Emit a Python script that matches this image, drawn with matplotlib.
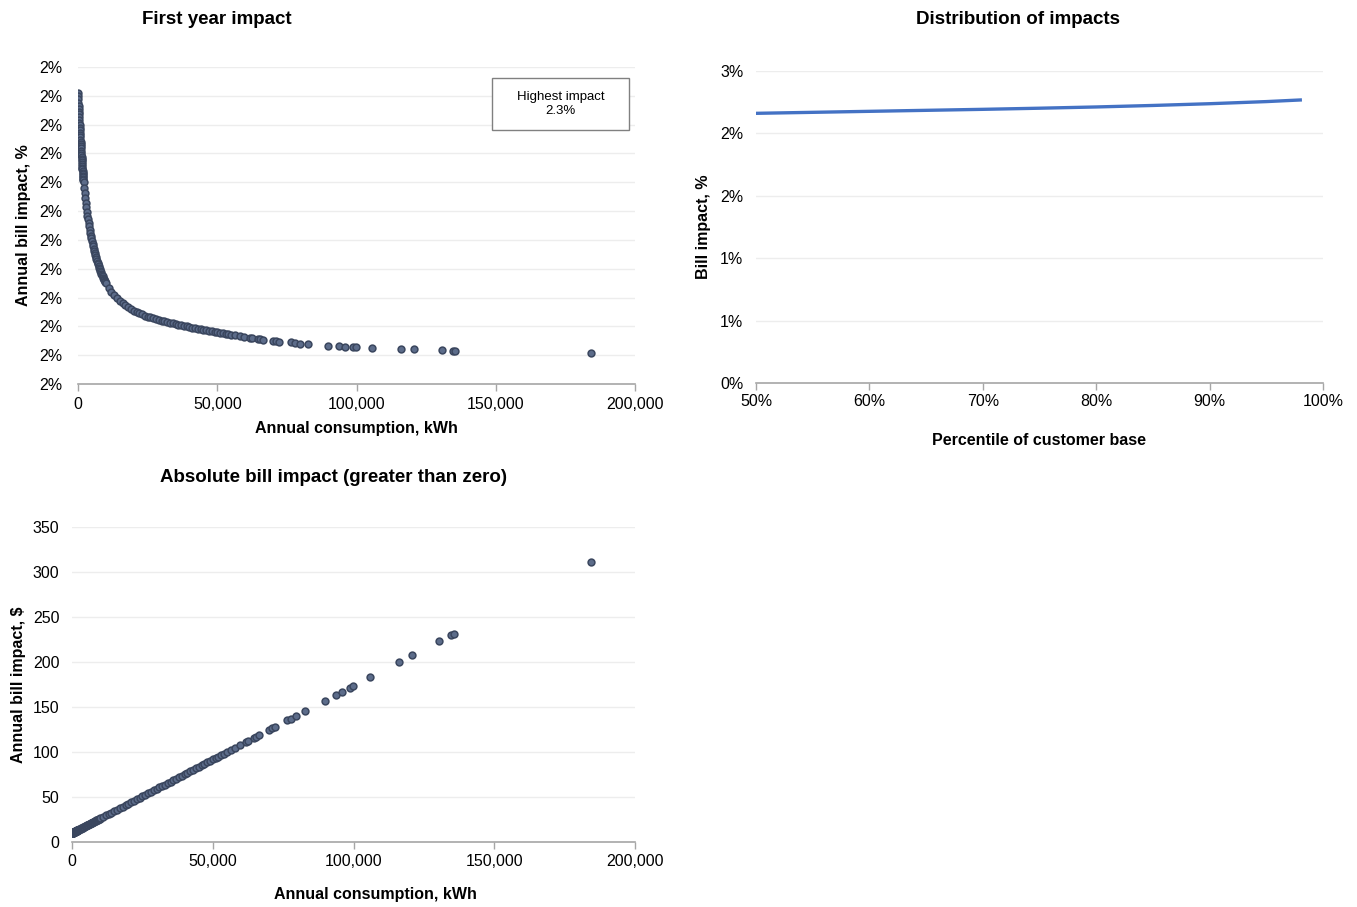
import matplotlib.pyplot as plt
from matplotlib.patches import Rectangle

plt.rcParams['font.family'] = ['Liberation Sans', 'DejaVu Sans']

# annual consumption per customer, kWh
consumption = [0, 50, 100, 150, 200, 250, 300, 350, 400, 450, 500, 550, 600, 650, 700, 750,
               800, 850, 900, 950, 1000, 1050, 1100, 1150, 1200, 1250, 1300, 1350, 1400, 1450,
               1500, 1550, 1600, 1650, 1700, 1750, 1800, 1850, 1900, 1950, 2000,
               2200, 2400, 2600, 2800, 3000, 3200, 3400, 3600, 3800, 4000, 4200, 4400, 4600,
               4800, 5000, 5200, 5400, 5600, 5800, 6000, 6200, 6400, 6600, 6800, 7000, 7200,
               7400, 7600, 7800, 8000, 8200, 8400, 8600, 8800, 9000, 9200, 9400, 9600, 9800,
               10000, 11000, 12000, 13000, 14000, 15000, 16000, 17000, 18000, 19000, 20000,
               21000, 22000, 23000, 24000, 25000, 26000, 27000, 28000, 29000, 30000, 31000,
               32000, 33000, 34000, 35000, 36000, 37000, 38000, 39000, 40000, 41000, 42000,
               43000, 44000, 45000, 46000, 47000, 48000, 49000, 50000, 51000, 52000, 53000,
               54000, 55000, 56500, 58000, 59700, 61800, 62600, 64600, 65500, 66300, 70000,
               71200, 72100, 76500, 77800, 79600, 82700, 89900, 93600, 95800, 98600, 99800,
               105700, 116100, 120800, 130500, 134500, 135500, 184200]

# first year bill impact, %
pct_impact = [2.3020, 2.2997, 2.2975, 2.2953, 2.2932, 2.2911, 2.2891, 2.2871, 2.2851, 2.2833,
              2.2814, 2.2796, 2.2778, 2.2761, 2.2744, 2.2727, 2.2711, 2.2695, 2.2680, 2.2664,
              2.2649, 2.2635, 2.2620, 2.2606, 2.2592, 2.2579, 2.2565, 2.2552, 2.2539, 2.2527,
              2.2515, 2.2502, 2.2490, 2.2479, 2.2467, 2.2456, 2.2445, 2.2434, 2.2423, 2.2413,
              2.2402,
              2.2362, 2.2325, 2.2290, 2.2257, 2.2226, 2.2197, 2.2169, 2.2142, 2.2118, 2.2094,
              2.2071, 2.2050, 2.2029, 2.2010, 2.1991, 2.1973, 2.1956, 2.1940, 2.1924, 2.1909,
              2.1894, 2.1880, 2.1867, 2.1854, 2.1842, 2.1830, 2.1818, 2.1807, 2.1796, 2.1786,
              2.1776, 2.1766, 2.1756, 2.1747, 2.1738, 2.1730, 2.1721, 2.1713, 2.1705, 2.1698,
              2.1668, 2.1641, 2.1617, 2.1595, 2.1575, 2.1559, 2.1545, 2.1532, 2.1520, 2.1510,
              2.1500, 2.1491, 2.1483, 2.1475, 2.1468, 2.1462, 2.1456, 2.1450, 2.1445, 2.1440,
              2.1435, 2.1430, 2.1425, 2.1421, 2.1416, 2.1412, 2.1408, 2.1404, 2.1400, 2.1396,
              2.1392, 2.1389, 2.1385, 2.1382, 2.1378, 2.1375, 2.1371, 2.1368, 2.1364, 2.1360,
              2.1357, 2.1353, 2.1350, 2.1346,
              2.1343, 2.1339, 2.1334, 2.1329, 2.1322, 2.1319, 2.1313, 2.1310, 2.1307, 2.1300,
              2.1297, 2.1295, 2.1289, 2.1286, 2.1281, 2.1276, 2.1265, 2.1262, 2.1260, 2.1258,
              2.1257, 2.1251, 2.1244, 2.1240, 2.1235, 2.1230, 2.1230, 2.1212]

# absolute bill impact, $
abs_impact = [9.80, 9.88, 9.96, 10.05, 10.13, 10.21, 10.29, 10.37, 10.45, 10.54, 10.62, 10.70,
              10.78, 10.86, 10.95, 11.03, 11.11, 11.19, 11.27, 11.36, 11.44, 11.52, 11.60, 11.68,
              11.76, 11.85, 11.93, 12.01, 12.09, 12.17, 12.26, 12.34, 12.42, 12.50, 12.58, 12.66,
              12.75, 12.83, 12.91, 12.99, 13.07,
              13.40, 13.73, 14.06, 14.38, 14.71, 15.04, 15.37, 15.69, 16.02, 16.35, 16.68, 17.00,
              17.33, 17.66, 17.99, 18.31, 18.64, 18.97, 19.29, 19.62, 19.95, 20.28, 20.60, 20.93,
              21.26, 21.59, 21.91, 22.24, 22.57, 22.90, 23.22, 23.55, 23.88, 24.21, 24.53, 24.86,
              25.19, 25.52, 25.84, 26.17,
              27.81, 29.44, 31.08, 32.72, 34.36, 35.99, 37.63, 39.27, 40.90, 42.54, 44.18, 45.81,
              47.45, 49.09, 50.73, 52.36, 54.00, 55.64, 57.27, 58.91, 60.55, 62.18, 63.82, 65.46,
              67.10, 68.73, 70.37, 72.01, 73.64, 75.28, 76.92, 78.55, 80.19, 81.83, 83.47, 85.10,
              86.74, 88.38, 90.01, 91.65, 93.29, 94.92, 96.56, 98.20,
              99.84, 102.29, 104.75, 107.53, 110.97, 112.28, 115.55, 117.02, 118.33, 124.39,
              126.35, 127.83, 135.03, 137.16, 140.11, 145.18, 156.97, 163.02, 166.62, 171.21,
              173.17, 182.83, 199.86, 207.55, 223.43, 229.98, 231.61, 311.33]

# distribution of impacts
percentile = [50, 55, 60, 65, 70, 75, 80, 85, 90, 95, 98]
dist_impact = [2.161, 2.169, 2.177, 2.185, 2.193, 2.202, 2.212, 2.224, 2.238, 2.255, 2.268]

pct_ticks = [2.10, 2.12, 2.14, 2.16, 2.18, 2.20, 2.22, 2.24, 2.26, 2.28, 2.30, 2.32]
pct_ticklabels = ['2%'] * 12
dist_yticks = [0, 0.5, 1.0, 1.5, 2.0, 2.5]
dist_yticklabels = ['0%', '1%', '1%', '2%', '2%', '3%']
dist_xticks = [50, 60, 70, 80, 90, 100]
dist_xticklabels = ['50%', '60%', '70%', '80%', '90%', '100%']
kwh_ticks = [0, 50000, 100000, 150000, 200000]
kwh_ticklabels = ['0', '50,000', '100,000', '150,000', '200,000']
abs_ticks = [0, 50, 100, 150, 200, 250, 300, 350]

dot_face = '#5C6C8A'
dot_edge = '#3A465E'
FS = 11.5


def style(ax, ypad, xpad=5):
    for s in ['top', 'right', 'left']:
        ax.spines[s].set_visible(False)
    ax.spines['bottom'].set_color('#A6A6A6')
    ax.spines['bottom'].set_linewidth(1.2)
    ax.grid(axis='y', color='#EDEDED', linewidth=1)
    ax.set_axisbelow(True)
    ax.tick_params(axis='y', length=0, pad=ypad, labelsize=FS)
    ax.tick_params(axis='x', length=5, width=1, color='#A6A6A6', pad=xpad, labelsize=FS)


fig = plt.figure(figsize=(13.57, 9.07), dpi=100)

# first year impact
ax1 = fig.add_axes([0.0575, 0.5766, 0.4105, 0.3495])
ax1.scatter(consumption, pct_impact, s=24, c=dot_face, edgecolors=dot_edge, linewidths=1.1, zorder=3)
ax1.set_xlim(0, 200000)
ax1.set_ylim(2.10, 2.32)
ax1.set_yticks(pct_ticks)
ax1.set_yticklabels(pct_ticklabels)
ax1.set_xticks(kwh_ticks)
ax1.set_xticklabels(kwh_ticklabels)
style(ax1, 11, 4)
ax1.set_xlabel('Annual consumption, kWh', fontsize=FS, fontweight='bold', labelpad=7)
ax1.set_ylabel('Annual bill impact, %', fontsize=FS, fontweight='bold', labelpad=6)
fig.text(0.16, 0.978, 'First year impact', fontsize=13.5, fontweight='bold', ha='center', va='center')

fig.patches.append(Rectangle((0.3626, 0.8567), 0.101, 0.0573, transform=fig.transFigure,
                             facecolor='white', edgecolor='#808080', linewidth=1))
fig.text(0.413, 0.8853, 'Highest impact\n2.3%', fontsize=9.5, ha='center', va='center',
         linespacing=1.25)

# distribution of impacts
ax2 = fig.add_axes([0.5571, 0.5777, 0.4178, 0.344])
ax2.plot(percentile, dist_impact, color='#4472C4', linewidth=2.4)
ax2.set_xlim(50, 100)
ax2.set_ylim(0, 2.5)
ax2.set_yticks(dist_yticks)
ax2.set_yticklabels(dist_yticklabels)
ax2.set_xticks(dist_xticks)
ax2.set_xticklabels(dist_xticklabels)
style(ax2, 9, 3)
ax2.set_xlabel('Percentile of customer base', fontsize=FS, fontweight='bold', labelpad=17)
ax2.set_ylabel('Bill impact, %', fontsize=FS, fontweight='bold', labelpad=7)
fig.text(0.750, 0.978, 'Distribution of impacts', fontsize=13.5, fontweight='bold', ha='center', va='center')

# absolute bill impact
ax3 = fig.add_axes([0.0531, 0.0717, 0.4149, 0.3473])
ax3.scatter(consumption, abs_impact, s=24, c=dot_face, edgecolors=dot_edge, linewidths=1.1, zorder=3)
ax3.set_xlim(0, 200000)
ax3.set_ylim(0, 350)
ax3.set_yticks(abs_ticks)
ax3.set_xticks(kwh_ticks)
ax3.set_xticklabels(kwh_ticklabels)
style(ax3, 9, 4)
ax3.set_xlabel('Annual consumption, kWh', fontsize=FS, fontweight='bold')
ax3.xaxis.set_label_coords(0.538, -0.142)
ax3.set_ylabel('Annual bill impact, $', fontsize=FS, fontweight='bold', labelpad=5)
fig.text(0.246, 0.474, 'Absolute bill impact (greater than zero)', fontsize=13.5, fontweight='bold',
         ha='center', va='center')

fig.savefig('out.png', dpi=100)
